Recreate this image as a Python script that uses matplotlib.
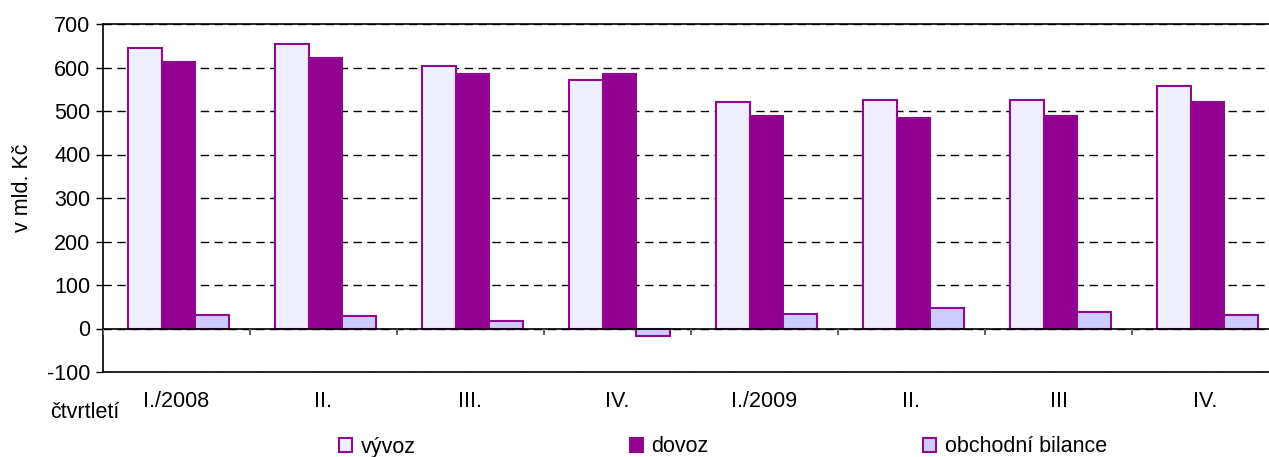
import matplotlib.pyplot as plt
import numpy as np
from matplotlib.patches import Patch

plt.rcParams['font.family'] = ['Liberation Sans', 'DejaVu Sans']
plt.rcParams['axes.unicode_minus'] = False

# data (bn CZK)
quarters = ["I./2008", "II.", "III.", "IV.", "I./2009", "II.", "III", "IV."]
vyvoz = [645, 654, 603, 571, 520, 525, 525, 557]
dovoz = [612, 622, 585, 585, 488, 484, 488, 521]
bilance = [32, 28, 18, -17, 33, 46, 37, 32]

edge = "#8E0A8E"
c_vyvoz = "#EEEEFD"
c_dovoz = "#920092"
c_bil = "#CCCCFF"
fs = 15.5

fig = plt.figure(figsize=(12.69, 4.57), dpi=100)
ax = fig.add_axes([103 / 1269, 1 - 372 / 457, 1176 / 1269, 348 / 457])

x = np.arange(len(quarters))
w = 0.228
ax.bar(x - w + 0.015, vyvoz, w, color=c_vyvoz, edgecolor=edge, linewidth=1.5, zorder=3)
ax.bar(x + 0.015, dovoz, w, color=c_dovoz, edgecolor=edge, linewidth=1.5, zorder=3)
ax.bar(x + w + 0.015, bilance, w, color=c_bil, edgecolor=edge, linewidth=1.5, zorder=3)

ax.set_xlim(-0.5, len(quarters) - 0.5)
ax.set_ylim(-100, 700)
ax.set_yticks(range(-100, 701, 100))
ax.yaxis.grid(True, linestyle=(0, (6, 4)), color="black", linewidth=1)
ax.set_axisbelow(True)

# category axis at zero with tick marks between groups
ax.axhline(0, color="black", linewidth=1.2, zorder=4)
ax.vlines(np.arange(len(quarters) + 1) - 0.5, -14, 0, color="#666666", linewidth=1.5, zorder=4)

ax.set_xticks(x)
ax.set_xticklabels(quarters)
ax.tick_params(axis="x", length=0, pad=14, labelsize=fs)
ax.tick_params(axis="y", length=5, width=1, labelsize=fs, pad=4)

for s in ["top", "bottom", "left"]:
    ax.spines[s].set_color("black")
    ax.spines[s].set_linewidth(1.2)
ax.spines["right"].set_visible(False)

ax.set_ylabel("v mld. Kč", fontsize=fs)
ax.yaxis.set_label_coords(-0.0596, 0.53)
fig.text(50 / 1269, 1 - 413 / 457, "čtvrtletí", fontsize=fs, va="center", ha="left")

labels = ["vývoz", "dovoz", "obchodní bilance"]
colors = [c_vyvoz, c_dovoz, c_bil]
xpos = [339, 630, 923]
for lab, col, xp in zip(labels, colors, xpos):
    fig.legend(handles=[Patch(facecolor=col, edgecolor=edge, linewidth=1.5)], labels=[lab],
               loc="center left", bbox_to_anchor=(xp / 1269, 1 - 447 / 457),
               frameon=False, fontsize=fs, handlelength=0.6, handleheight=0.6,
               handletextpad=0.4, borderpad=0, borderaxespad=0)

fig.savefig("out.png", dpi=100)
